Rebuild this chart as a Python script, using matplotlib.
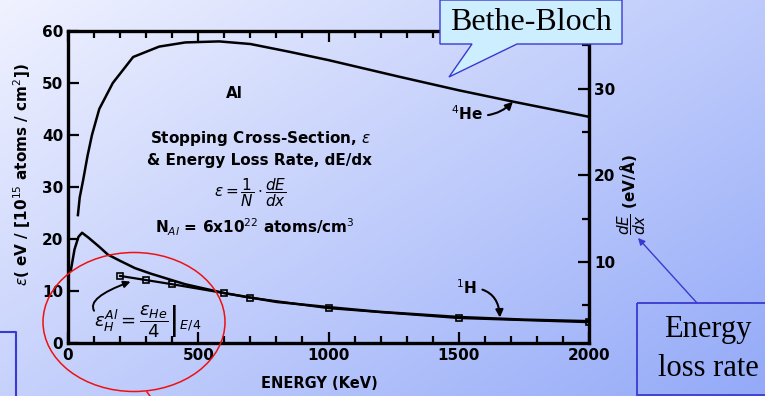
import numpy as np
import matplotlib
matplotlib.use("Agg")
import matplotlib.pyplot as plt
from matplotlib.patches import Ellipse, Polygon, Rectangle

plt.rcParams['font.family'] = ['DejaVu Sans']
plt.rcParams['mathtext.fontset'] = 'dejavusans'

# 4He stopping cross-section (eV / 1e15 atoms/cm2) vs energy (keV)
he_energy = [38, 45, 58, 75, 92, 120, 172, 250, 350, 450, 580, 700, 850, 1000, 1272, 1500, 1720, 2000]
he_eps = [24.6, 28.0, 31.3, 36.0, 40.0, 45.0, 50.0, 55.0, 57.0, 57.8, 58.0, 57.5, 56.0, 54.4, 51.2, 48.6, 46.3, 43.5]

# 1H stopping cross-section
h_energy = [11, 25, 40, 54, 80, 120, 153, 200, 257, 320, 372, 450, 600, 800, 1000, 1195, 1500, 1750, 2000]
h_eps = [14.0, 18.0, 20.4, 21.2, 20.2, 18.5, 17.0, 15.8, 14.4, 13.3, 12.5, 11.3, 9.6, 7.9, 6.9, 6.0, 5.0, 4.5, 4.2]

# eps_He/4 evaluated at E/4 (squares)
sq_energy = [200, 300, 400, 600, 700, 1000, 1500, 2000]
sq_eps = [12.9, 12.1, 11.3, 9.6, 8.7, 6.7, 4.8, 4.0]

left_ticks = [0, 10, 20, 30, 40, 50, 60]
right_ticks = [10, 20, 30]
energy_ticks = [0, 500, 1000, 1500, 2000]

W, H = 765, 396
fig = plt.figure(figsize=(W / 100, H / 100), dpi=100)

# background gradient
bg = fig.add_axes([0, 0, 1, 1])
yy, xx = np.mgrid[0:H, 0:W]
t = np.clip(0.55 * xx / W + 0.45 * yy / H, 0, 1)[..., None]
c0 = np.array([240, 242, 255]) / 255
c1 = np.array([148, 170, 248]) / 255
bg.imshow(c0 * (1 - t) + c1 * t, extent=[0, W, H, 0], aspect='auto')
bg.set_xlim(0, W)
bg.set_ylim(H, 0)
bg.axis('off')

# main axes
L, R, T, B = 68, 589, 31, 343
ax = fig.add_axes([L / W, (H - B) / H, (R - L) / W, (B - T) / H])
ax.set_facecolor('none')
ax.plot(he_energy, he_eps, 'k-', lw=1.8)
ax.plot(h_energy, h_eps, 'k-', lw=1.8)
ax.plot(sq_energy, sq_eps, 'k-', lw=1.6, marker='s', ms=5, mfc='none', mec='k', mew=1.2)
ax.set_xlim(0, 2000)
ax.set_ylim(0, 60)
ax.set_xticks(energy_ticks)
ax.set_xticks(np.arange(0, 2001, 100), minor=True)
ax.set_yticks(left_ticks)
for s in ax.spines.values():
    s.set_linewidth(2.4)
ax.tick_params(which='both', direction='in', top=True, width=1.6, labelsize=11)
ax.tick_params(which='major', length=8)
ax.tick_params(which='minor', length=5)
ax.tick_params(axis='y', right=False)
for lab in ax.get_xticklabels() + ax.get_yticklabels():
    lab.set_fontweight('bold')
ax.set_xlabel('ENERGY (KeV)', fontsize=10.5, fontweight='bold', loc='left', labelpad=4)
ax.xaxis.set_label_coords(0.37, -0.105)
ax.set_ylabel(r'$\epsilon$( eV / [10$^{15}$ atoms / cm$^2$])', fontsize=11, fontweight='bold')
ax.yaxis.set_label_coords(-0.068, 0.54)

sec = ax.secondary_yaxis('right', functions=(lambda y: 0.6 * y + 0.66, lambda y: (y - 0.66) / 0.6))
sec.set_yticks(right_ticks)
sec.set_yticks([5, 15, 25, 35], minor=True)
sec.tick_params(which='both', direction='in', width=1.6, labelsize=11)
sec.tick_params(which='major', length=8)
sec.tick_params(which='minor', length=5)
for lab in sec.get_yticklabels():
    lab.set_fontweight('bold')

# in-plot annotations
kw = dict(fontsize=11, fontweight='bold')
ax.text(640, 47.9, 'Al', ha='center', va='center', **kw)
ax.text(315, 39.4, r'Stopping Cross-Section, $\epsilon$', ha='left', va='center', **kw)
ax.text(305, 35.1, r'& Energy Loss Rate, dE/dx', ha='left', va='center', **kw)
ax.text(700, 29.0, r'$\epsilon = \dfrac{1}{N}\cdot\dfrac{dE}{dx}$', ha='center', va='center', fontsize=11)
ax.text(335, 22.3, r'N$_{Al}$ = 6x10$^{22}$ atoms/cm$^3$', ha='left', va='center', **kw)
ax.annotate(r'$^4$He', xy=(1708, 46.4), xytext=(1530, 44.2), ha='center', va='center',
            arrowprops=dict(arrowstyle='-|>', color='k', lw=1.5, connectionstyle='arc3,rad=0.3',
                            shrinkA=2, shrinkB=0), **kw)
ax.annotate(r'$^1$H', xy=(1658, 4.9), xytext=(1530, 10.6), ha='center', va='center',
            arrowprops=dict(arrowstyle='-|>', color='k', lw=1.5, connectionstyle='arc3,rad=-0.5',
                            shrinkA=2, shrinkB=0), **kw)
ax.text(100, 4.2, r'$\epsilon_H^{Al} = \left.\dfrac{\epsilon_{He}}{4}\right|_{E/4}$', ha='left', va='center',
        fontsize=13)
ax.annotate('', xy=(240, 11.8), xytext=(100, 6.2),
            arrowprops=dict(arrowstyle='-|>', color='k', lw=1.4,
                            connectionstyle='angle3,angleA=120,angleB=20', shrinkA=0, shrinkB=0))

# overlay for callouts
ov = fig.add_axes([0, 0, 1, 1], zorder=5)
ov.set_xlim(0, W)
ov.set_ylim(H, 0)
ov.axis('off')
ov.set_facecolor('none')
blue = '#3a3ad0'

fig.text(632 / W, 1 - 195 / H, r'$\dfrac{dE}{dx}$ (eV/Å)', rotation=90, ha='center', va='center',
         fontsize=11, fontweight='bold')

ov.add_patch(Ellipse((134, 322), 182, 139, fill=False, ec='#ee1111', lw=1.1))
ov.plot([147, 150], [392, 396], color='#ee1111', lw=1.1)

ov.add_patch(Polygon([[440, 0], [622, 0], [622, 44], [517, 44], [449, 77], [472, 44], [440, 44]],
                     closed=True, fc='#cdeeff', ec=blue, lw=1.0))
ov.text(531, 22, 'Bethe-Bloch', ha='center', va='center', fontsize=23, family='Liberation Serif')

ov.add_patch(Rectangle((637, 303), 140, 92, fill=False, ec=blue, lw=1.3))
ov.text(708, 330, 'Energy', ha='center', va='center', fontsize=22, family='Liberation Serif')
ov.text(708, 368, 'loss rate', ha='center', va='center', fontsize=22, family='Liberation Serif')
ov.annotate('', xy=(638, 238), xytext=(697, 303),
            arrowprops=dict(arrowstyle='-|>', color=blue, lw=1.0, shrinkA=0, shrinkB=0))

ov.plot([0, 16, 16], [332, 332, 396], color=blue, lw=1.5)

fig.savefig('out.png', dpi=100)
